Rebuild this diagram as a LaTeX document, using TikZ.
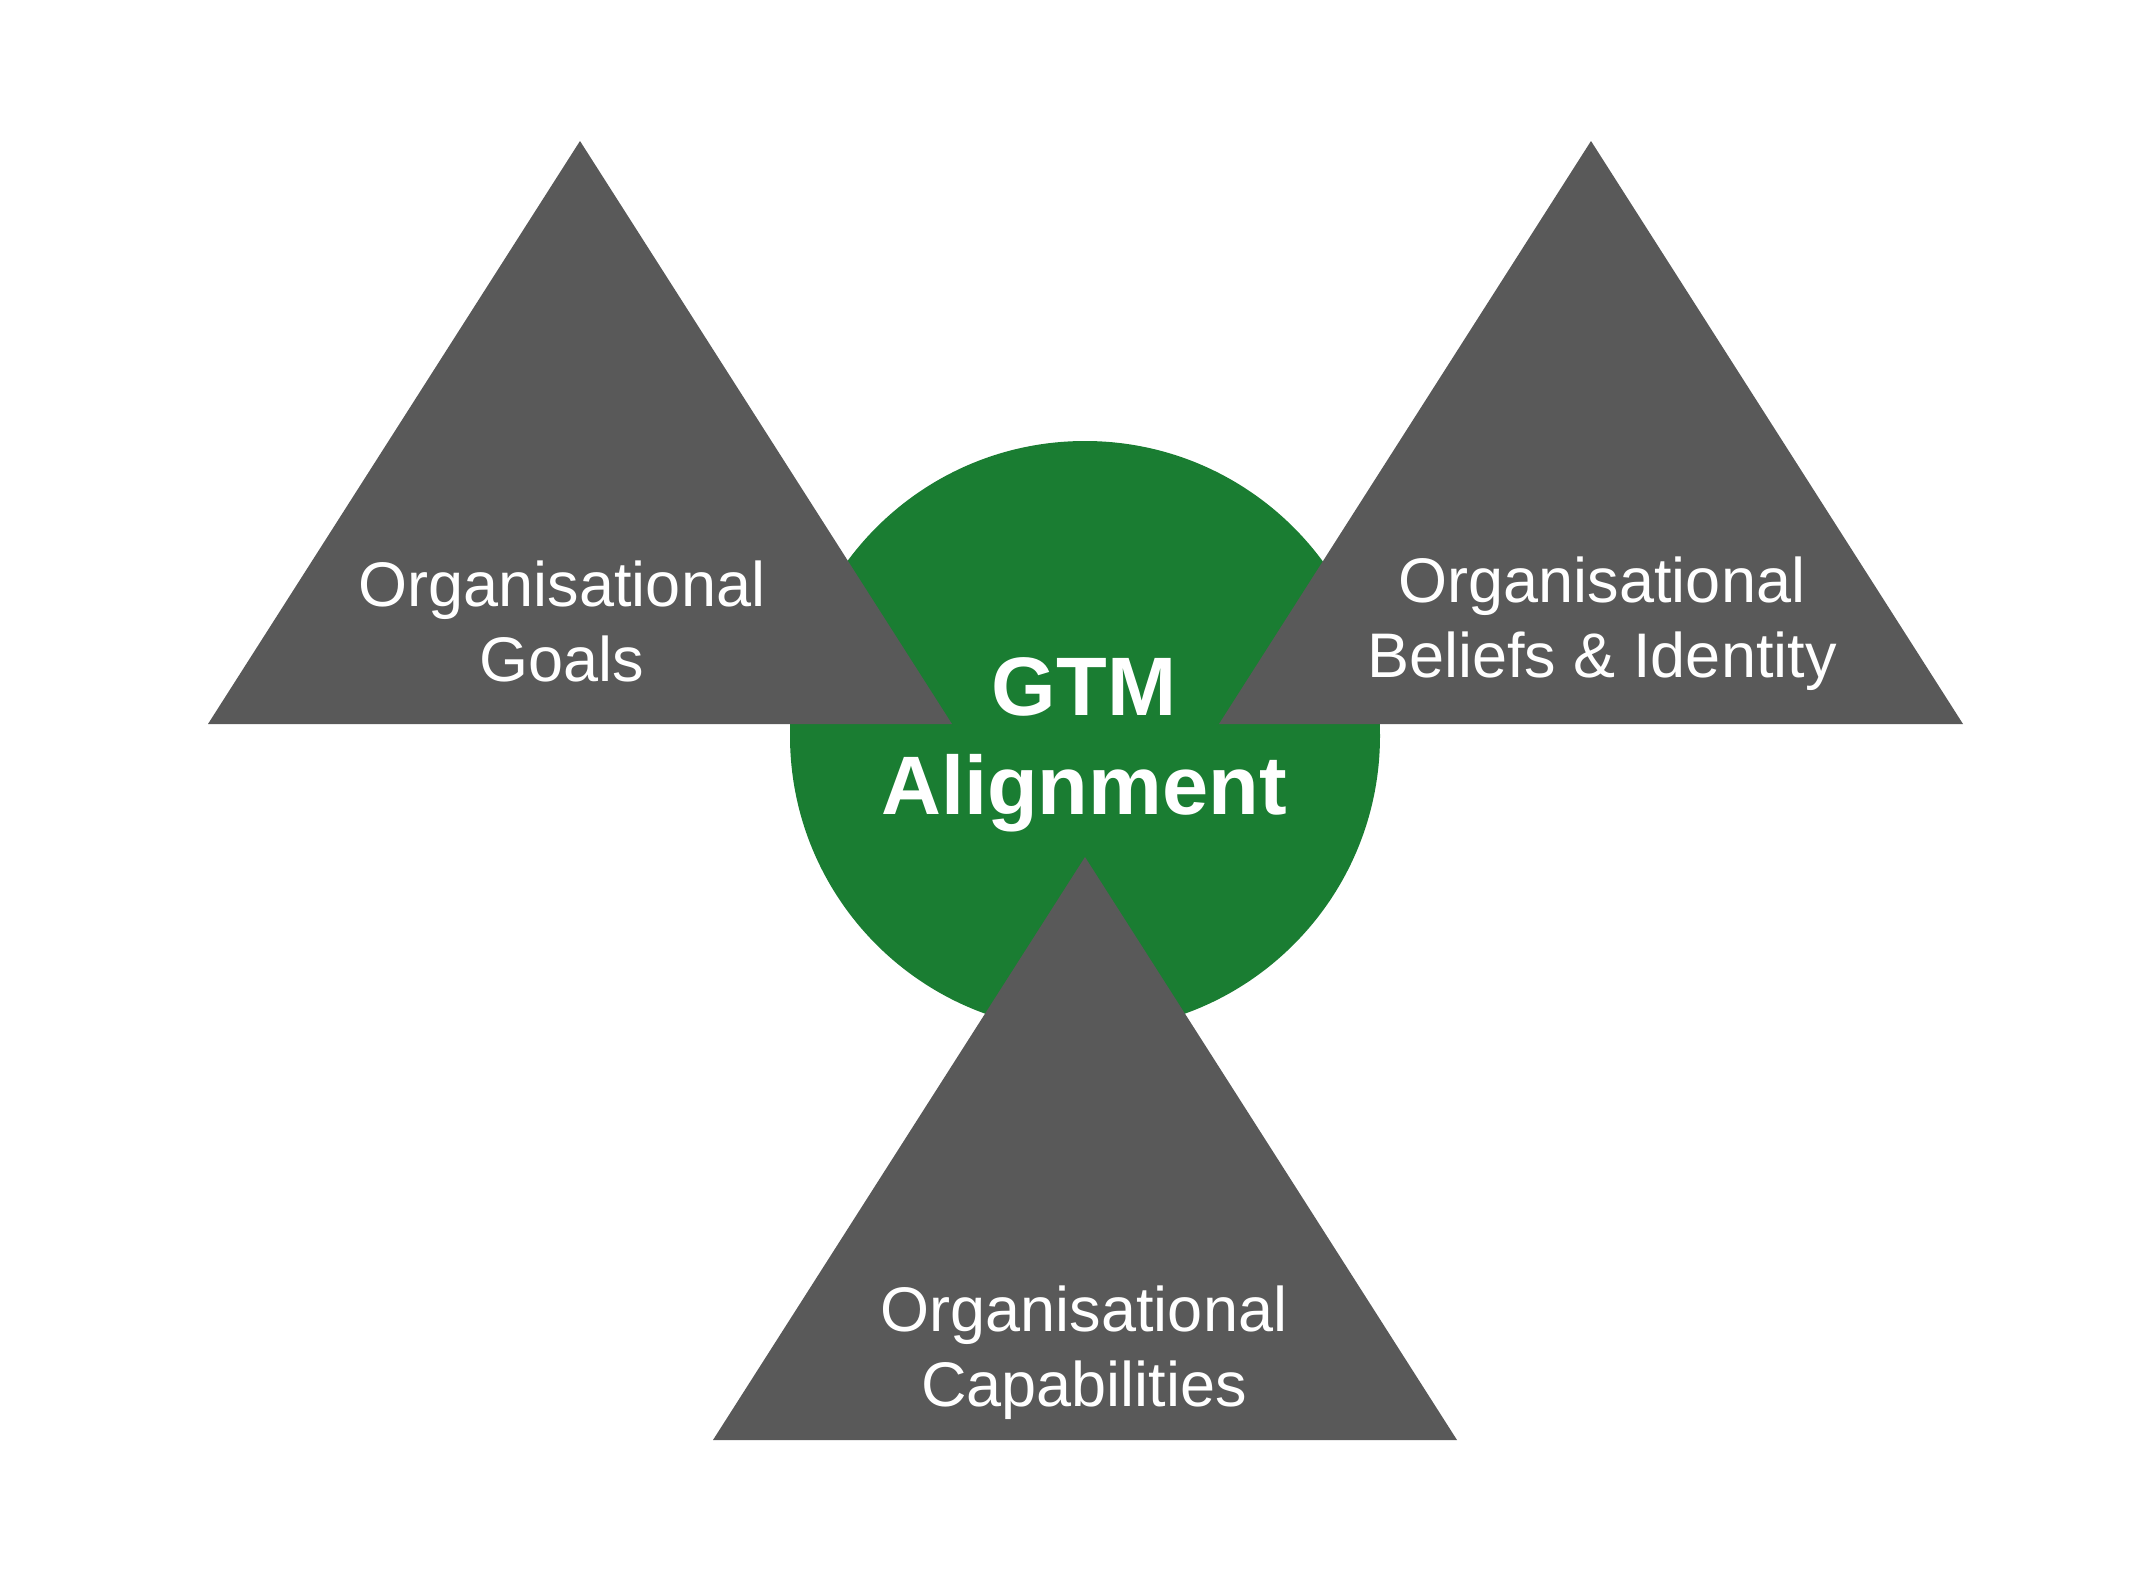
\documentclass[tikz,border=0pt]{standalone}
\usepackage{fontspec}
\setmainfont{Liberation Sans}
\definecolor{trigray}{HTML}{595959}
\definecolor{gtmgreen}{HTML}{1A7D32}
\tikzset{
	tri/.style={fill=trigray},
	lbl/.style={text=white, align=center, anchor=base, font={\fontsize{31.5}{37.5}\selectfont}},
	hub/.style={lbl, font={\bfseries\fontsize{41.5}{49.5}\selectfont}},
}
\begin{document}
\begin{tikzpicture}[x=0.5pt, y=-0.5pt]
	\useasboundingbox (0,0) rectangle (2149,1590);
	%circle
	\fill[gtmgreen] (1085,736) circle[radius=147.5pt];
	%triangles
	\foreach \ax/\ay in {580/141, 1591/141, 1085/857}
	\fill[tri] (\ax,\ay) -- ++(-372,583) -- ++(744,0) -- cycle;
	%labels
	\node[lbl] (goals) at (562,681) {Organisational\\Goals};
	\node[lbl] (beliefs) at (1602,677) {Organisational\\Beliefs \& Identity};
	\node[lbl] (capab) at (1084,1406) {Organisational\\Capabilities};
	\node[hub] (gtm) at (1084,814) {GTM\\Alignment};
\end{tikzpicture}
\end{document}
